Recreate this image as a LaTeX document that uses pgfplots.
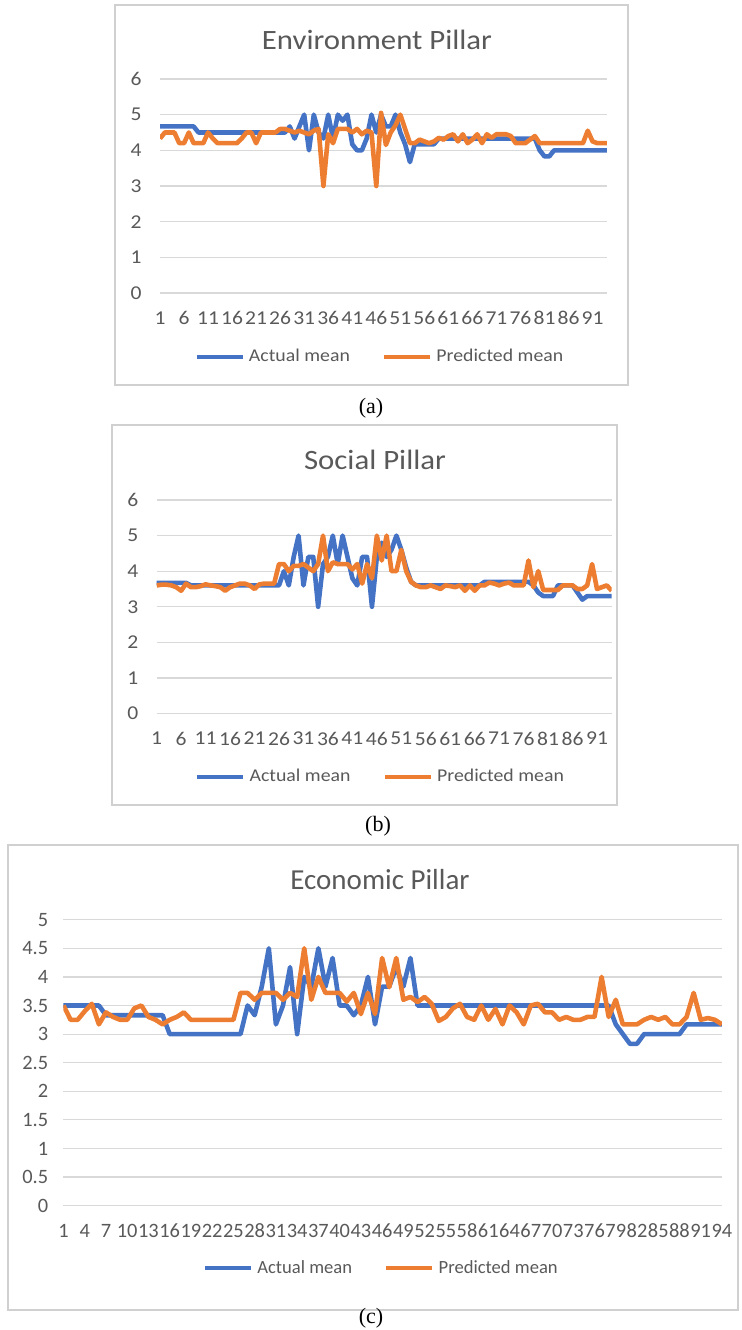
\documentclass[border=0pt]{standalone}
\usepackage{pgfplots}
\pgfplotsset{compat=1.18}
\usepackage{pgfplotstable}
\usepackage{fontspec}
\setmainfont{Carlito}
\newfontfamily\calS{Carlito}[FakeStretch=1.1]
\newfontfamily\calN{Carlito}
\newfontfamily\capfont{Liberation Serif}
\definecolor{blueA}{HTML}{4472C4}
\definecolor{orangeP}{HTML}{ED7D31}
\definecolor{gridg}{HTML}{D9D9D9}
\definecolor{txt}{HTML}{595959}
\definecolor{frameg}{HTML}{D0D0D0}

\pgfplotstableread{
i act pred
1 4.67 4.33
2 4.67 4.5
3 4.67 4.5
4 4.67 4.5
5 4.67 4.2
6 4.67 4.2
7 4.67 4.5
8 4.67 4.2
9 4.5 4.2
10 4.5 4.2
11 4.5 4.5
12 4.5 4.33
13 4.5 4.2
14 4.5 4.2
15 4.5 4.2
16 4.5 4.2
17 4.5 4.2
18 4.5 4.33
19 4.5 4.5
20 4.5 4.5
21 4.5 4.2
22 4.5 4.5
23 4.5 4.5
24 4.5 4.5
25 4.5 4.5
26 4.5 4.6
27 4.5 4.6
28 4.67 4.55
29 4.33 4.5
30 4.67 4.55
31 5 4.5
32 4 4.45
33 5 4.55
34 4.5 4.6
35 4.33 3.0
36 5 4.45
37 4.33 4.2
38 5 4.6
39 4.83 4.6
40 5 4.6
41 4.17 4.5
42 4 4.6
43 4 4.45
44 4.33 4.55
45 5 4.5
46 4.5 3.0
47 5 5.05
48 4.67 4.15
49 4.67 4.5
50 5 4.7
51 4.5 5.0
52 4.17 4.6
53 3.67 4.2
54 4.17 4.2
55 4.17 4.3
56 4.17 4.25
57 4.17 4.2
58 4.17 4.25
59 4.33 4.35
60 4.33 4.3
61 4.33 4.4
62 4.33 4.45
63 4.33 4.25
64 4.33 4.45
65 4.33 4.2
66 4.33 4.3
67 4.33 4.45
68 4.33 4.2
69 4.33 4.45
70 4.33 4.35
71 4.33 4.45
72 4.33 4.45
73 4.33 4.45
74 4.33 4.4
75 4.33 4.2
76 4.33 4.2
77 4.33 4.2
78 4.33 4.3
79 4.33 4.4
80 4.0 4.2
81 3.83 4.2
82 3.83 4.2
83 4.0 4.2
84 4.0 4.2
85 4.0 4.2
86 4.0 4.2
87 4.0 4.2
88 4.0 4.2
89 4.0 4.2
90 4.0 4.55
91 4.0 4.25
92 4.0 4.2
93 4.0 4.2
94 4.0 4.2
}\envdata

\pgfplotstableread{
i act pred
1 3.67 3.6
2 3.67 3.62
3 3.67 3.62
4 3.67 3.6
5 3.67 3.55
6 3.67 3.45
7 3.67 3.65
8 3.6 3.55
9 3.6 3.55
10 3.6 3.58
11 3.6 3.63
12 3.6 3.6
13 3.6 3.58
14 3.6 3.55
15 3.6 3.45
16 3.6 3.55
17 3.6 3.6
18 3.6 3.65
19 3.6 3.65
20 3.6 3.6
21 3.6 3.5
22 3.6 3.63
23 3.6 3.65
24 3.6 3.65
25 3.6 3.65
26 3.6 4.2
27 4.0 4.2
28 3.6 4.0
29 4.4 4.15
30 5.0 4.15
31 3.6 4.2
32 4.4 4.1
33 4.4 4.0
34 3.0 4.2
35 4.2 5.0
36 4.4 4.0
37 5.0 4.25
38 4.2 4.2
39 5.0 4.2
40 4.4 4.2
41 3.8 4.05
42 3.6 4.2
43 4.4 3.65
44 4.4 4.2
45 3.0 3.8
46 4.4 5.0
47 4.8 4.3
48 4.4 5.0
49 4.6 4.0
50 5.0 4.0
51 4.6 4.6
52 4.1 4.0
53 3.7 3.7
54 3.6 3.6
55 3.6 3.55
56 3.6 3.55
57 3.6 3.6
58 3.6 3.55
59 3.6 3.5
60 3.6 3.6
61 3.6 3.58
62 3.6 3.55
63 3.6 3.6
64 3.6 3.45
65 3.6 3.6
66 3.6 3.45
67 3.6 3.6
68 3.7 3.6
69 3.7 3.68
70 3.7 3.65
71 3.7 3.6
72 3.7 3.65
73 3.7 3.68
74 3.7 3.6
75 3.7 3.6
76 3.7 3.6
77 3.7 4.3
78 3.6 3.55
79 3.4 4.0
80 3.3 3.47
81 3.3 3.47
82 3.3 3.47
83 3.6 3.47
84 3.6 3.6
85 3.6 3.6
86 3.6 3.6
87 3.4 3.5
88 3.2 3.5
89 3.3 3.6
90 3.3 4.2
91 3.3 3.5
92 3.3 3.55
93 3.3 3.6
94 3.3 3.45
}\socdata

\pgfplotstableread{
i act pred
1 3.5 3.5
2 3.5 3.25
3 3.5 3.25
4 3.5 3.4
5 3.5 3.53
6 3.5 3.17
7 3.33 3.38
8 3.33 3.3
9 3.33 3.25
10 3.33 3.25
11 3.33 3.45
12 3.33 3.5
13 3.33 3.3
14 3.33 3.25
15 3.33 3.17
16 3.0 3.25
17 3.0 3.3
18 3.0 3.38
19 3.0 3.25
20 3.0 3.25
21 3.0 3.25
22 3.0 3.25
23 3.0 3.25
24 3.0 3.25
25 3.0 3.25
26 3.0 3.72
27 3.5 3.72
28 3.33 3.6
29 3.83 3.72
30 4.5 3.72
31 3.17 3.72
32 3.5 3.6
33 4.17 3.72
34 3.0 3.65
35 4.0 4.5
36 3.83 3.6
37 4.5 4.0
38 3.83 3.72
39 4.33 3.72
40 3.5 3.72
41 3.5 3.57
42 3.33 3.72
43 3.5 3.35
44 4.0 3.72
45 3.17 3.35
46 3.83 4.33
47 3.83 3.82
48 4.17 4.33
49 3.83 3.6
50 4.33 3.65
51 3.5 3.56
52 3.5 3.65
53 3.5 3.53
54 3.5 3.23
55 3.5 3.3
56 3.5 3.45
57 3.5 3.53
58 3.5 3.3
59 3.5 3.25
60 3.5 3.5
61 3.5 3.25
62 3.5 3.44
63 3.5 3.17
64 3.5 3.5
65 3.5 3.38
66 3.5 3.17
67 3.5 3.5
68 3.5 3.53
69 3.5 3.38
70 3.5 3.38
71 3.5 3.25
72 3.5 3.3
73 3.5 3.25
74 3.5 3.25
75 3.5 3.3
76 3.5 3.3
77 3.5 4.0
78 3.5 3.3
79 3.17 3.6
80 3.0 3.17
81 2.83 3.17
82 2.83 3.17
83 3.0 3.25
84 3.0 3.3
85 3.0 3.25
86 3.0 3.3
87 3.0 3.17
88 3.0 3.17
89 3.17 3.3
90 3.17 3.72
91 3.17 3.25
92 3.17 3.28
93 3.17 3.25
94 3.17 3.17
}\ecodata

\pgfplotsset{excel/.style={
  scale only axis, enlargelimits=false, xmin=1, xmax=94,
  axis line style={draw=none}, major tick length=0pt,
  ymajorgrids, grid style={gridg, line width=0.6pt},
  tick label style={text=txt},
  /pgf/number format/assume math mode=true,
  xticklabel style={anchor=center, yshift=-12.5pt},
  legend style={draw=none, fill=none, legend columns=2, anchor=center, text=txt,
    /tikz/every even column/.append style={column sep=14pt}},
  legend image code/.code={\draw[#1] (0pt,0pt) -- (23pt,0pt);},
  every axis plot/.append style={line width=2.3pt, line join=round, no markers},
}}

\begin{document}
\begin{tikzpicture}
\useasboundingbox (0,0) rectangle (370.5pt,665pt);
% frames
\draw[frameg, line width=0.7pt] (57.5pt,472.5pt) rectangle (314pt,662.5pt);
\draw[frameg, line width=0.7pt] (56pt,262.5pt) rectangle (308.5pt,452.5pt);
\draw[frameg, line width=0.7pt] (4pt,10pt) rectangle (369pt,242.5pt);

% (a)
\begin{axis}[excel, at={(80pt,518.5pt)}, anchor=south west,
  width=223.5pt, height=107pt, ymin=0, ymax=6, ytick={0,1,...,6},
  xtick={1,6,...,91},
  yticklabel style={anchor=east, inner sep=0pt, xshift=-9pt},
  tick label style={font=\calS\fontsize{9.8}{11}\selectfont},
  legend style={at={(0.494,-0.299)}, font=\calS\fontsize{9}{10}\selectfont}]
\addplot[blueA] table[x=i,y=act] {\envdata};
\addlegendentry{Actual mean}
\addplot[orangeP] table[x=i,y=pred] {\envdata};
\addlegendentry{Predicted mean}
\end{axis}
\node[font=\calS\fontsize{14}{16}\selectfont, text=txt] at (188.5pt,645pt) {Environment Pillar};
\node[font=\capfont\fontsize{11}{13}\selectfont] at (185.5pt,461pt) {(a)};

% (b)
\begin{axis}[excel, at={(78.35pt,308.25pt)}, anchor=south west,
  width=227.5pt, height=106.75pt, ymin=0, ymax=6, ytick={0,1,...,6},
  xtick={1,6,...,91},
  yticklabel style={anchor=east, inner sep=0pt, xshift=-9pt},
  tick label style={font=\calS\fontsize{9.8}{11}\selectfont},
  legend style={at={(0.494,-0.297)}, font=\calS\fontsize{9}{10}\selectfont}]
\addplot[blueA] table[x=i,y=act] {\socdata};
\addlegendentry{Actual mean}
\addplot[orangeP] table[x=i,y=pred] {\socdata};
\addlegendentry{Predicted mean}
\end{axis}
\node[font=\calS\fontsize{14}{16}\selectfont, text=txt] at (187.5pt,435pt) {Social Pillar};
\node[font=\capfont\fontsize{11}{13}\selectfont] at (189pt,252pt) {(b)};

% (c)
\begin{axis}[excel, at={(31.75pt,62.15pt)}, anchor=south west,
  width=329.25pt, height=143pt, ymin=0, ymax=5, ytick={0,0.5,...,5},
  xtick={1,4,...,94},
  yticklabel style={anchor=east, inner sep=0pt, xshift=-7.5pt},
  tick label style={font=\calN\fontsize{10.2}{11}\selectfont},
  legend style={at={(0.484,-0.218)}, font=\calN\fontsize{9.3}{10}\selectfont}]
\addplot[blueA] table[x=i,y=act] {\ecodata};
\addlegendentry{Actual mean}
\addplot[orangeP] table[x=i,y=pred] {\ecodata};
\addlegendentry{Predicted mean}
\end{axis}
\node[font=\calN\fontsize{14.5}{16}\selectfont, text=txt] at (190pt,225pt) {Economic Pillar};
\node[font=\capfont\fontsize{11}{13}\selectfont] at (185.5pt,6pt) {(c)};
\end{tikzpicture}
\end{document}
